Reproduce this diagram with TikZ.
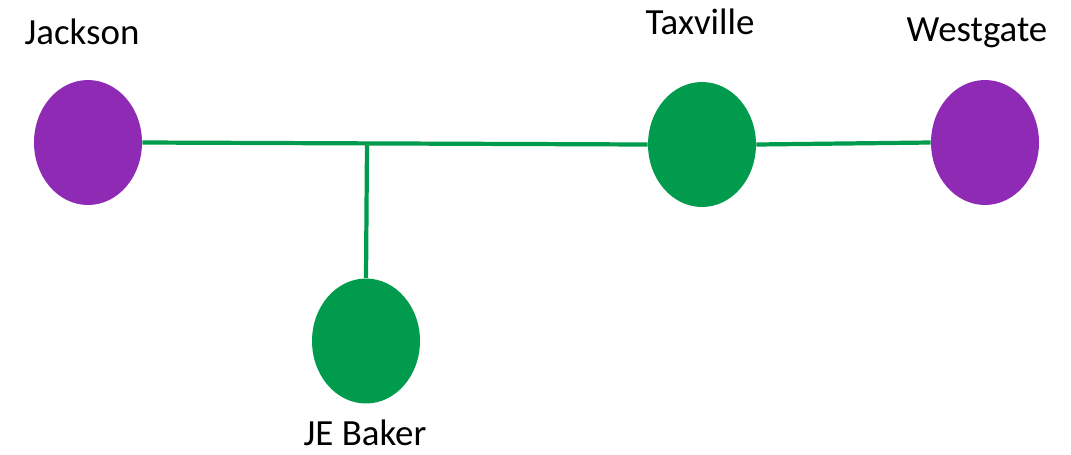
\documentclass[tikz,border=0pt]{standalone}
\usepackage{fontspec}
\setmainfont{Carlito}
\usetikzlibrary{shapes.geometric}
\definecolor{stopgreen}{RGB}{0,155,76}
\definecolor{stoppurple}{RGB}{142,42,180}

\begin{document}
\begin{tikzpicture}[
  x=0.02cm,y=-0.02cm,
  stop/.style={ellipse,minimum width=2.16cm,minimum height=2.5cm,inner sep=0pt},
  hub/.style={stop,fill=stopgreen},
  term/.style={stop,fill=stoppurple},
  track/.style={stopgreen,line width=2.4pt},
  label/.style={font=\fontsize{21}{24}\selectfont,inner sep=0pt},
]
  \useasboundingbox (0,0) rectangle (1071,454);
  \node[term] (Jackson) at (88,142.5) {};
  \node[hub] (Taxville) at (702,144.5) {};
  \node[term] (Westgate) at (985,142.5) {};
  \node[hub] (JEBaker) at (366,341) {};
  \coordinate (fork) at (367,143.5);
  \draw[track] (Jackson.east) -- (Taxville.west);
  \draw[track] (Taxville.east) -- (Westgate.west);
  \draw[track] (fork) -- (JEBaker.north);
  \node[label] (JacksonLabel) at (82,32) {Jackson};
  \node[label] (TaxvilleLabel) at (700,22) {Taxville};
  \node[label] (WestgateLabel) at (977,33) {Westgate};
  \node[label] (JEBakerLabel) at (365,433) {JE Baker};
\end{tikzpicture}
\end{document}
